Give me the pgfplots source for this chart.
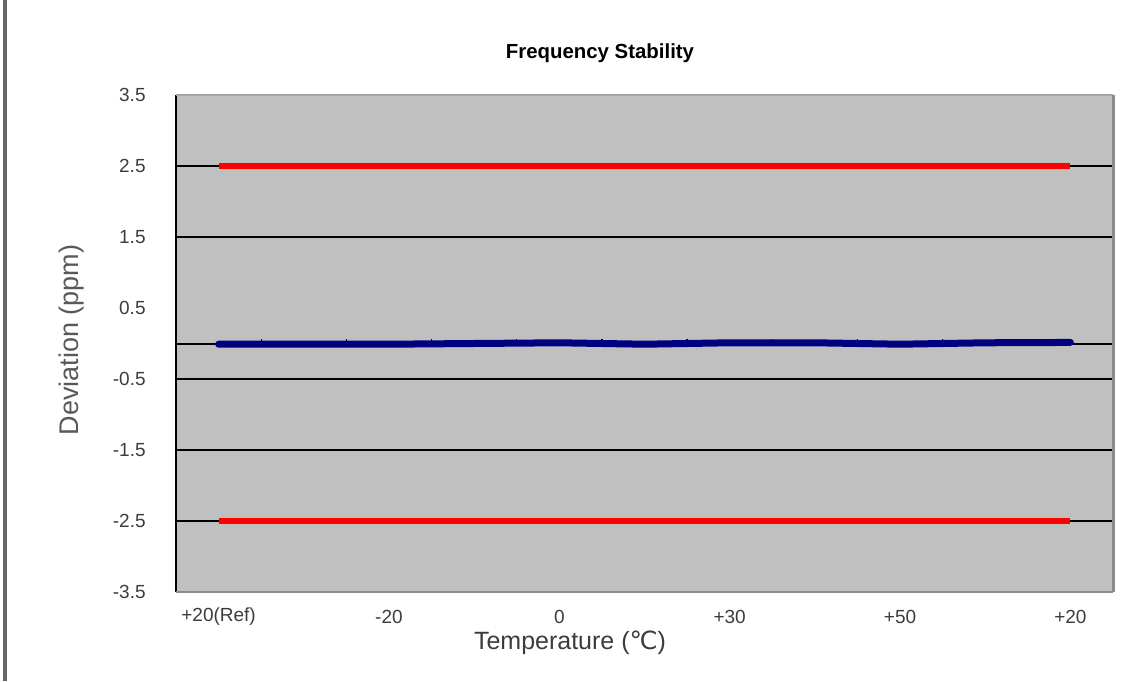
\documentclass[border=0pt]{standalone}
\usepackage{pgfplots}
\pgfplotsset{compat=1.18}
\usepackage{fontspec}
\setmainfont{Liberation Sans}
\newfontfamily\djv{DejaVu Sans}
\definecolor{bgray}{HTML}{C0C0C0}
\definecolor{navyblue}{HTML}{000080}
\definecolor{tickgray}{HTML}{3C3C3C}
\definecolor{framegray}{HTML}{8C8C8C}
\begin{document}
\begin{tikzpicture}
\path[use as bounding box] (0,0) rectangle (570.5pt,340.5pt);
\draw[line width=2pt, color=black!60] (2.5pt,0) -- (2.5pt,340.5pt);
\begin{axis}[
  at={(88pt,44.5pt)}, anchor=south west,
  scale only axis, width=468.5pt, height=248.5pt,
  xmin=-0.5, xmax=10.5, ymin=-3.5, ymax=3.5,
  clip=false,
  axis line style={draw=none},
  axis background/.style={fill=bgray},
  xtick={0,2,4,6,8,10},
  xticklabels={+20(Ref),-20,0,+30,+50,+20},
  ytick={-3.5,-2.5,-1.5,-0.5,0.5,1.5,2.5,3.5},
  yticklabels={-3.5,-2.5,-1.5,-0.5,0.5,1.5,2.5,3.5},
  major tick length=0pt,
  extra y ticks={-2.5,-1.5,-0.5,0,1.5,2.5},
  extra y tick labels={},
  extra y tick style={grid=major, major grid style={black, line width=1pt}},
  yticklabel style={font=\fontsize{9.5}{11}\selectfont, text=tickgray, anchor=east, inner sep=0pt, xshift=-15pt},
  xticklabel style={font=\fontsize{9.5}{11}\selectfont, text=tickgray, anchor=center, inner sep=0pt, yshift=-12.5pt},
  title={Frequency Stability},
  title style={at={(axis description cs:0.4525,1.059)}, anchor=center, font=\bfseries\fontsize{10.2}{12}\selectfont},
  xlabel={Temperature ({\djv ℃})},
  xlabel style={at={(axis description cs:0.4205,-0.1026)}, anchor=center, font=\fontsize{12.5}{14}\selectfont, text=tickgray},
  ylabel={Deviation (ppm)},
  ylabel style={at={(axis description cs:-0.111,0.507)}, anchor=center, font=\fontsize{13.5}{15}\selectfont, text=black!65},
]
\pgfplotsinvokeforeach{0.5,1.5,...,9.5}{
  \draw[black, line width=0.6pt] (axis cs:#1,0) -- (axis cs:#1,0.07);
}
\addplot[red, line width=3pt] coordinates {
  (0,2.5) (1,2.5) (2,2.5) (3,2.5) (4,2.5) (5,2.5) (6,2.5) (7,2.5) (8,2.5) (9,2.5) (10,2.5)};
\addplot[red, line width=3pt] coordinates {
  (0,-2.5) (1,-2.5) (2,-2.5) (3,-2.5) (4,-2.5) (5,-2.5) (6,-2.5) (7,-2.5) (8,-2.5) (9,-2.5) (10,-2.5)};
\addplot[navyblue, line width=3.5pt, line cap=round, line join=round] coordinates {
  (0,-0.01) (1,-0.01) (2,-0.01) (3,0.0) (4,0.01) (5,-0.01) (6,0.01) (7,0.01) (8,-0.01) (9,0.01) (10,0.015)};
\draw[black, line width=1pt] (rel axis cs:0,1) -- (rel axis cs:0,0);
\draw[framegray, line width=1pt] (rel axis cs:0,0) -- (rel axis cs:1,0);
\draw[framegray!80, line width=1pt] (rel axis cs:0,1) -- (rel axis cs:1,1);
\draw[framegray, line width=1.5pt] (rel axis cs:1,1) -- (rel axis cs:1,0);
\end{axis}
\end{tikzpicture}
\end{document}
